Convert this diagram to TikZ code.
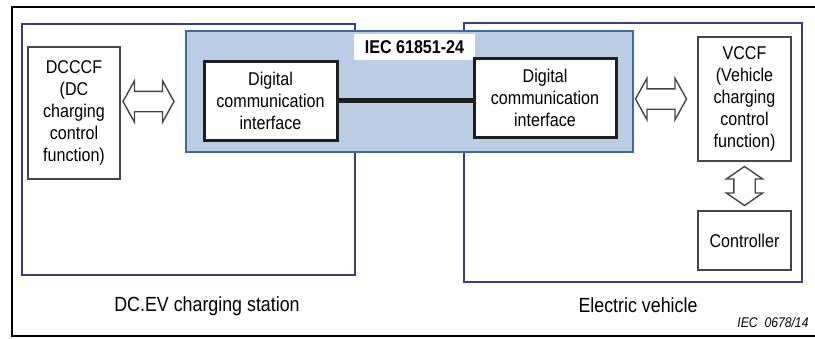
\documentclass[tikz,border=0pt]{standalone}
\usepackage{fontspec}
\setmainfont{Liberation Sans}[FakeStretch=0.87]
\usetikzlibrary{shapes.arrows, positioning, calc}
\definecolor{iecNavy}{HTML}{3B3B8E}
\definecolor{iecBlue}{HTML}{B9CDE5}
\definecolor{iecBlueEdge}{HTML}{3E6A9C}
\definecolor{iecInk}{HTML}{1E1E1E}
\definecolor{iecGrey}{HTML}{454545}

\begin{document}
\begin{tikzpicture}[x=1pt, y=-1pt, font=\fontsize{18.5}{22}\selectfont,
        zone/.style={draw=iecNavy, line width=1.4pt, inner sep=0pt},
        iecbox/.style={draw=iecBlueEdge, fill=iecBlue, line width=1.5pt, inner sep=0pt},
        dci/.style={draw=iecInk, line width=3pt, fill=white, align=center, inner sep=0pt, minimum height=79pt},
        func/.style={draw=iecGrey, line width=1.5pt, fill=white, align=center, inner sep=0pt, minimum width=93pt},
        dblarrow/.style={double arrow, draw=iecGrey, line width=1.4pt, fill=white, inner xsep=0pt, inner ysep=9.5pt,
          double arrow head extend=10.5pt, double arrow tip angle=122, minimum height=51pt},
        link/.style={iecInk, line width=4.5pt},
        lbl/.style={font=\fontsize{20.5}{24}\selectfont}]
        \useasboundingbox (0,0) rectangle (815,338);
        \draw[line width=1.5pt] (12,7) rectangle (818,336);
        % station and vehicle
        \node[zone, minimum width=333pt, minimum height=251pt] (station) at (188.5,149.5) {};
        \node[zone, minimum width=338pt, minimum height=259pt] (ev) at (633,152.5) {};
        \node[iecbox, minimum width=447pt, minimum height=121pt] (iec) at (409.5,91.5) {};
        \node[fill=white, inner sep=0pt, minimum width=121pt, minimum height=26pt, font=\bfseries\fontsize{18.5}{22}\selectfont] (ieclbl) at (414.5,47) {IEC 61851-24};
        % boxes
        \node[dci, minimum width=133pt] (dcl) at (270.5,100.5) {Digital\\communication\\interface};
        \node[dci, minimum width=142pt] (dcr) at (545,97.5) {Digital\\communication\\interface};
        \node[func, minimum width=92pt, minimum height=132pt] (dcccf) at (74,113) {DCCCF\\(DC\\charging\\control\\function)};
        \node[func, minimum height=124pt] (vccf) at (744.5,99) {VCCF\\(Vehicle\\charging\\control\\function)};
        \node[func, minimum height=59pt] (ctrl) at (744.5,240.5) {Controller};
        \draw[link] (dcl.east) -- (dcl.east -| dcr.west);
        % arrows
        \node[dblarrow] (arrdc) at (148.5,101.5) {};
        \node[dblarrow] (arrev) at (661,99) {};
        \node[dblarrow, shape border rotate=90, inner xsep=10pt, inner ysep=0pt, double arrow head extend=7.5pt,
          double arrow tip angle=111, minimum height=39pt] (arrctrl) at ($(vccf.south)!0.5!(ctrl.north)$) {};
        % captions
        \node[lbl] (stationlbl) at (207,306) {DC.EV charging station};
        \node[lbl] (evlbl) at (638,305) {Electric vehicle};
        \node[font=\itshape\fontsize{14}{16}\selectfont] (figref) at (773,322) {IEC\ \ 0678/14};
      \end{tikzpicture}
\end{document}
